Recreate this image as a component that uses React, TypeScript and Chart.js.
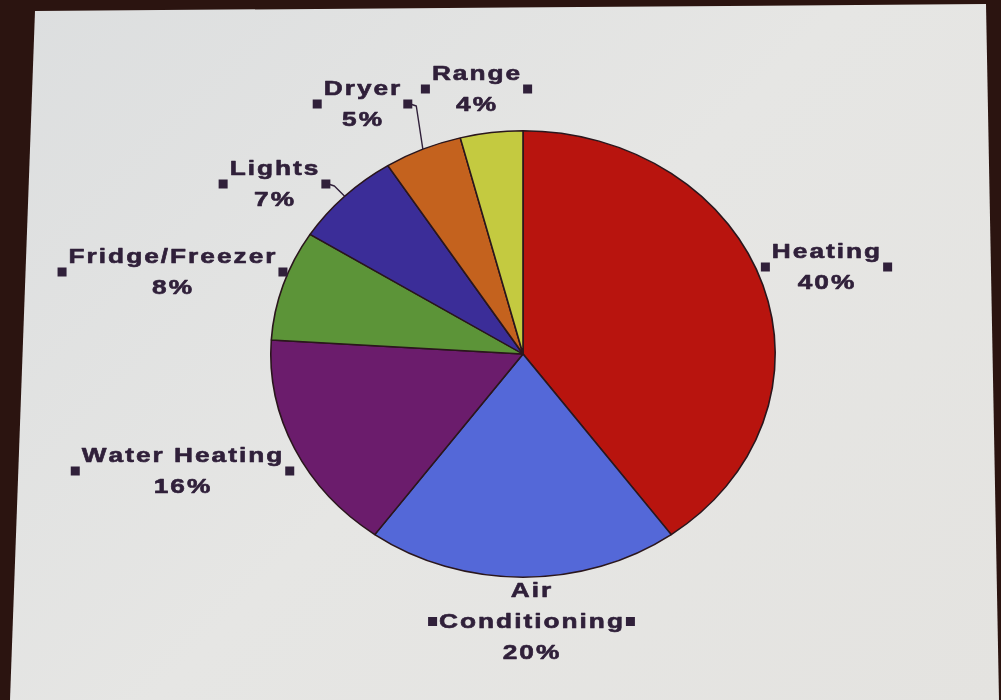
import React, { useEffect, useRef } from 'react';
import { Chart, registerables } from 'chart.js';

Chart.register(...registerables);

// ---- data ----
const CATEGORIES = ['Heating', 'Air Conditioning', 'Water Heating', 'Fridge/Freezer', 'Lights', 'Dryer', 'Range'];
const SHARES = [40, 20, 16, 8, 7, 5, 4];
const COLORS = ['#b8140e', '#5468d8', '#6b1c6c', '#5c9438', '#3b2d98', '#c4621e', '#c4ca40'];
const WRAPPED = ['Air Conditioning'];
const WITH_LEADER = ['Lights', 'Dryer'];

// ---- layout (label block centre x and first-line top y) ----
const LABEL_CX = [826, 531, 182, 172, 274, 362, 476];
const LABEL_TOP = [243, 582, 447, 248, 160, 80, 65];

const SY = 0.885; // vertical squash of the photographed pie
const FONT = 'bold 21px "Liberation Sans", Arial, sans-serif';
const TEXT_COLOR = '#30203a';
const SX = 1.25;
const LS = 2;
const LINE_GAP = 31;
const CAP = 15;
const SQ = 9;

function drawSpaced(ctx: CanvasRenderingContext2D, text: string, cx: number, baseline: number) {
  const chars = Array.from(text);
  const widths = chars.map((c) => ctx.measureText(c).width * SX);
  const total = widths.reduce((a, b) => a + b, 0) + LS * (chars.length - 1);
  let x = cx - total / 2;
  chars.forEach((c, i) => {
    ctx.save();
    ctx.translate(x, baseline);
    ctx.scale(SX, 1);
    ctx.fillText(c, 0, 0);
    ctx.strokeText(c, 0, 0);
    ctx.restore();
    x += widths[i] + LS;
  });
  return { left: cx - total / 2, right: cx + total / 2 };
}

const ellipsePlugin = {
  id: 'ellipse',
  beforeDatasetsDraw(chart: any) {
    const arc = chart.getDatasetMeta(0).data[0];
    const ctx = chart.ctx;
    ctx.save();
    ctx.translate(arc.x, arc.y);
    ctx.scale(1, SY);
    ctx.translate(-arc.x, -arc.y);
  },
  afterDatasetsDraw(chart: any) {
    chart.ctx.restore();
  },
};

const labelPlugin = {
  id: 'excelLabels',
  afterDraw(chart: any) {
    const ctx: CanvasRenderingContext2D = chart.ctx;
    const meta = chart.getDatasetMeta(0);
    const labels: string[] = chart.data.labels;
    const values: number[] = chart.data.datasets[0].data;
    ctx.save();
    ctx.font = FONT;
    ctx.fillStyle = TEXT_COLOR;
    ctx.strokeStyle = TEXT_COLOR;
    ctx.lineWidth = 0.6;
    ctx.lineJoin = 'round';
    ctx.textBaseline = 'alphabetic';
    ctx.textAlign = 'left';
    labels.forEach((name, i) => {
      const lines = WRAPPED.includes(name) ? name.split(' ') : [name];
      lines.push(values[i] + '%');
      const cx = LABEL_CX[i];
      const top = LABEL_TOP[i];
      let minL = Infinity;
      let maxR = -Infinity;
      lines.forEach((ln, j) => {
        const r = drawSpaced(ctx, ln, cx, top + j * LINE_GAP + CAP);
        minL = Math.min(minL, r.left);
        maxR = Math.max(maxR, r.right);
      });
      const midY = (top + top + (lines.length - 1) * LINE_GAP + CAP) / 2 + 1;
      ctx.fillRect(minL - 2 - SQ, midY - SQ / 2, SQ, SQ);
      ctx.fillRect(maxR + 3, midY - SQ / 2, SQ, SQ);
      if (WITH_LEADER.includes(name)) {
        const arc = meta.data[i];
        const p = arc.getProps(['x', 'y', 'startAngle', 'endAngle', 'outerRadius'], true);
        const mid = (p.startAngle + p.endAngle) / 2;
        const px = p.x + Math.cos(mid) * p.outerRadius;
        const py = p.y + Math.sin(mid) * p.outerRadius * SY;
        const sx = maxR + 3 + SQ;
        ctx.save();
        ctx.beginPath();
        ctx.lineWidth = 1.4;
        ctx.moveTo(sx - 2, midY);
        ctx.lineTo(sx + 4, midY + 2);
        ctx.lineTo(px, py);
        ctx.stroke();
        ctx.restore();
      }
    });
    ctx.restore();
  },
};

export default function App() {
  const ref = useRef<HTMLCanvasElement>(null);
  useEffect(() => {
    if (!ref.current) return;
    const chart = new Chart(ref.current, {
      type: 'pie',
      data: {
        labels: CATEGORIES,
        datasets: [
          {
            data: SHARES,
            backgroundColor: COLORS,
            borderColor: '#2a161c',
            borderWidth: 1.6,
          },
        ],
      },
      options: {
        responsive: false,
        animation: false,
        layout: { padding: { left: 270, right: 225, top: 101, bottom: 93 } },
        plugins: {
          legend: { display: false },
          tooltip: { enabled: false },
        },
      },
      plugins: [ellipsePlugin, labelPlugin],
    });
    return () => chart.destroy();
  }, []);

  return (
    <div
      style={{
        position: 'fixed',
        left: 0,
        top: 0,
        width: 1001,
        height: 700,
        background: '#2b1410',
        overflow: 'hidden',
      }}
    >
      <div
        style={{
          position: 'absolute',
          left: 0,
          top: 0,
          width: 1001,
          height: 700,
          background: 'linear-gradient(135deg, #dcdedf 0%, #e6e6e4 50%, #e4e3e0 100%)',
          clipPath: 'polygon(35px 11px, 986px 4px, 999px 700px, 10px 700px)',
        }}
      />
      <canvas ref={ref} width={1001} height={700} style={{ position: 'absolute', left: 0, top: 0 }} />
    </div>
  );
}
